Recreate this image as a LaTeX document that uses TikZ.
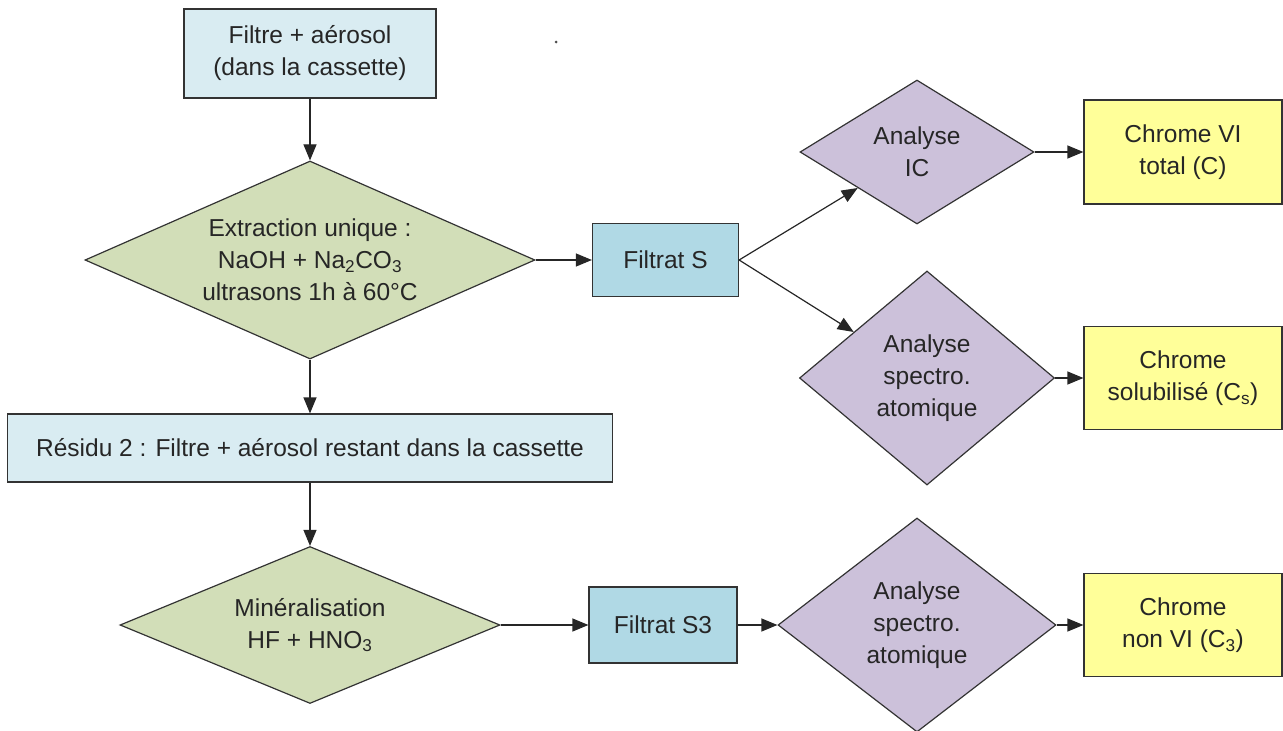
\documentclass[tikz,border=0pt]{standalone}
\usepackage{fontspec}
\setmainfont{Liberation Sans}
\usetikzlibrary{arrows.meta,shapes.geometric}

\definecolor{bleupale}{HTML}{D9ECF2}
\definecolor{bleu}{HTML}{B0D9E5}
\definecolor{vert}{HTML}{D2DEB8}
\definecolor{mauve}{HTML}{CCC1DA}
\definecolor{jaune}{HTML}{FFFF99}

\begin{document}
\begin{tikzpicture}[x=1pt,y=-1pt,
		font=\fontsize{24.5}{32}\selectfont,
		boite/.style={draw=black!80, line width=1.2pt, rectangle, inner sep=0pt, align=center, text=black!85},
		losange/.style={draw=black!80, line width=1.2pt, diamond, inner sep=0pt, align=center, text=black!85},
		fleche/.style={-{Triangle[length=16pt,width=13pt]}, line width=1.2pt, black!85}]
		\useasboundingbox (0,0) rectangle (1283,731);
		% colonne de gauche
		\node[boite, fill=bleupale, minimum width=252pt, minimum height=89pt] (filtre) at (310,53.5) {Filtre + aérosol\\(dans la cassette)};
		\node[losange, fill=vert, minimum width=450pt, minimum height=198pt, aspect=2.27] (extr) at (310,260) {Extraction unique :\\NaOH + Na\textsubscript{2}CO\textsubscript{3}\\ultrasons 1h à 60°C};
		\node[boite, fill=bleupale, minimum width=605pt, minimum height=68pt] (res) at (310,448) {Résidu 2 : Filtre + aérosol restant dans la cassette};
		\node[losange, fill=vert, minimum width=380pt, minimum height=157pt, aspect=2.42] (mine) at (310,625) {Minéralisation\\HF + HNO\textsubscript{3}};
		% filtrats
		\node[boite, fill=bleu, minimum width=146pt, minimum height=73pt] (fs) at (665.5,260) {Filtrat S};
		\node[boite, fill=bleu, minimum width=148pt, minimum height=76pt] (fstrois) at (663,625) {Filtrat S3};
		% analyses
		\node[losange, fill=mauve, minimum width=234pt, minimum height=144pt, aspect=1.62] (ic) at (917,152) {Analyse\\IC};
		\node[losange, fill=mauve, minimum width=255pt, minimum height=214pt, aspect=1.19] (spa) at (927,378) {Analyse\\spectro.\\atomique};
		\node[losange, fill=mauve, minimum width=278pt, minimum height=214pt, aspect=1.3] (spb) at (917,625) {Analyse\\spectro.\\atomique};
		% resultats
		\node[boite, fill=jaune, minimum width=198pt, minimum height=104pt] (cvi) at (1183,152) {Chrome VI\\total (C)};
		\node[boite, fill=jaune, minimum width=198pt, minimum height=103pt] (csol) at (1183,378) {Chrome\\solubilisé (C\textsubscript{s})};
		\node[boite, fill=jaune, minimum width=198pt, minimum height=103pt] (cnv) at (1183,625) {Chrome\\non VI (C\textsubscript{3})};
		\foreach \a/\b in {filtre/extr, extr/res, res/mine, extr/fs, mine/fstrois, fstrois/spb, ic/cvi, spa/csol, spb/cnv}
			\draw[fleche] (\a) -- (\b);
		\draw[fleche] (fs.east) -- (ic);
		\draw[fleche] (fs.east) -- (spa);
		\fill[black!70] (556,42) circle (1.5pt);
	\end{tikzpicture}
\end{document}
